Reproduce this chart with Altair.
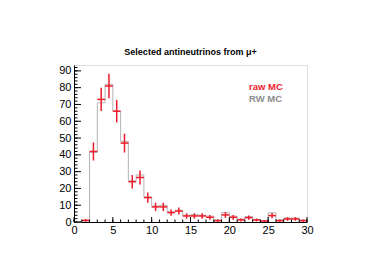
import altair as alt
import pandas as pd

# bin edges (low edge of each 1-unit bin)
bin_low = [0, 1, 2, 3, 4, 5, 6, 7, 8, 9, 10, 11, 12, 13, 14, 15, 16, 17, 18, 19,
           20, 21, 22, 23, 24, 25, 26, 27, 28, 29]
# raw MC (red crosses)
raw_mc = [0, 1, 42, 73, 81, 66, 47, 24, 26.5, 14.5, 9, 9, 5.6, 6.5, 3.6, 3.6, 3.6, 2.8, 0.8, 4.2,
          2.8, 1.2, 2.6, 1.2, 0.6, 3.8, 0.8, 1.8, 1.8, 0.8]
raw_err = [0, 0.8, 5.4, 6.9, 7.3, 6.7, 5.6, 4.0, 4.2, 3.1, 2.5, 2.5, 1.9, 2.1, 1.6, 1.6, 1.6, 1.4, 0.7, 1.7,
           1.4, 0.9, 1.3, 0.9, 0.6, 1.6, 0.7, 1.1, 1.1, 0.7]
# RW MC (grey histogram)
rw_mc = [0, 0.5, 41.5, 71, 82, 66, 48, 24.5, 28, 15, 9.5, 10, 6, 7, 4, 4.4, 4, 3.5, 1.2, 5.5,
         3.5, 1.8, 3.2, 1.6, 0.8, 5.5, 1.2, 2.4, 2.4, 1.2]

x_major = [0, 5, 10, 15, 20, 25, 30]
x_minor = list(range(0, 31))
y_major = [0, 10, 20, 30, 40, 50, 60, 70, 80, 90]
y_minor = list(range(0, 93, 2))

title_text = "Selected antineutrinos from \u03bc+"
legend_labels = ["raw MC", "RW MC"]

RED = "#ee1c2a"
GREY = "#b4b4b4"
FONT = "Liberation Sans"

W, H = 233, 157
xs = alt.Scale(domain=[0, 30], nice=False)
ys = alt.Scale(domain=[0, 93.5], nice=False)

x_axis = alt.Axis(values=x_major, title=None, tickSize=0, labelFont=FONT, labelFontSize=11,
                  labelColor="black", domainColor="black", labelPadding=2, grid=False,
                  labelFlush=False, labelOverlap=False)
y_axis = alt.Axis(values=y_major, title=None, tickSize=0, labelFont=FONT, labelFontSize=11,
                  labelColor="black", domainColor="black", labelPadding=3, grid=False,
                  labelFlush=False, labelOverlap=False)


def X(f):
    return alt.X(f, scale=xs, axis=x_axis)


def Y(f):
    return alt.Y(f, scale=ys, axis=y_axis)


# step outline data
step_df = pd.DataFrame({"x": bin_low + [30], "y": rw_mc + [rw_mc[-1]]})

raw_df = pd.DataFrame({"lo": bin_low, "val": raw_mc, "err": raw_err})
raw_df["hi"] = raw_df["lo"] + 1
raw_df["c"] = raw_df["lo"] + 0.5
raw_df["ylo"] = raw_df["val"] - raw_df["err"]
raw_df["yhi"] = raw_df["val"] + raw_df["err"]
raw_df = raw_df[raw_df["val"] > 0]

step = alt.Chart(step_df).mark_line(interpolate="step-after", color=GREY, strokeWidth=1).encode(
    x=X("x:Q"), y=Y("y:Q"))
# vertical edge at start of histogram
start_df = pd.DataFrame({"x": [2], "y0": [0], "y1": [rw_mc[2]]})
start = alt.Chart(start_df).mark_rule(color=GREY, strokeWidth=1).encode(
    x=X("x:Q"), y=Y("y0:Q"), y2="y1:Q")

hbar = alt.Chart(raw_df).mark_rule(color=RED, strokeWidth=1.5).encode(
    x=X("lo:Q"), x2="hi:Q", y=Y("val:Q"))
vbar = alt.Chart(raw_df).mark_rule(color=RED, strokeWidth=1.5).encode(
    x=X("c:Q"), y=Y("ylo:Q"), y2="yhi:Q")

# inward ticks
ymaj = alt.Chart(pd.DataFrame({"v": y_major})).mark_rule(color="black", strokeWidth=1).encode(
    y=Y("v:Q"), x=alt.value(0), x2=alt.value(7))
ymin = alt.Chart(pd.DataFrame({"v": y_minor})).mark_rule(color="black", strokeWidth=1).encode(
    y=Y("v:Q"), x=alt.value(0), x2=alt.value(3.5))
xmaj = alt.Chart(pd.DataFrame({"v": x_major})).mark_rule(color="black", strokeWidth=1).encode(
    x=X("v:Q"), y=alt.value(H), y2=alt.value(H - 5))
xmin = alt.Chart(pd.DataFrame({"v": x_minor})).mark_rule(color="black", strokeWidth=1).encode(
    x=X("v:Q"), y=alt.value(H), y2=alt.value(H - 2.5))

title = alt.Chart(pd.DataFrame({"t": [title_text]})).mark_text(
    font=FONT, fontSize=9, fontWeight="bold", color="black", align="center", baseline="middle"
).encode(text="t:N", x=alt.value(W / 2), y=alt.value(-13))

leg1 = alt.Chart(pd.DataFrame({"t": [legend_labels[0]]})).mark_text(
    font=FONT, fontSize=9.5, fontWeight="bold", align="left", baseline="middle", color=RED
).encode(text="t:N", x=alt.value(175), y=alt.value(22))
leg2 = alt.Chart(pd.DataFrame({"t": [legend_labels[1]]})).mark_text(
    font=FONT, fontSize=9.5, fontWeight="bold", align="left", baseline="middle", color="#8c8c8c"
).encode(text="t:N", x=alt.value(175), y=alt.value(34))

chart = alt.layer(step, start, hbar, vbar, ymaj, ymin, xmaj, xmin, title, leg1, leg2).properties(
    width=W, height=H,
    padding={"left": 74, "top": 65, "right": 61, "bottom": 54},
    autosize=alt.AutoSizeParams(type="none"),
).configure_view(stroke="#000000", strokeWidth=1).configure(background="white")

chart.save("out.html", embed_options={"renderer": "svg", "actions": False})
